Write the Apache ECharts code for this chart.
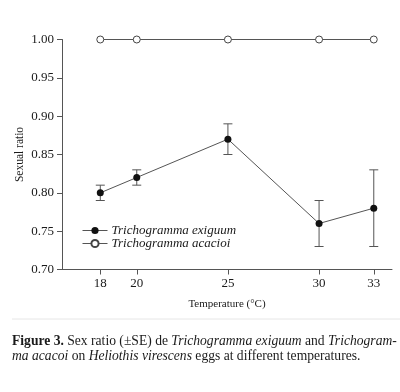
<!DOCTYPE html>
<html>
<head>
<meta charset="utf-8">
<script src="https://cdn.jsdelivr.net/npm/echarts@6/dist/echarts.min.js"></script>
<style>
  html, body { margin: 0; padding: 0; background: #fff; }
  #chart { width: 400px; height: 392px; }
</style>
</head>
<body>
<div id="chart"></div>
<script>
// temperatures (°C) and sex ratios
const temps = [18, 20, 25, 30, 33];
const exiguum = [0.80, 0.82, 0.87, 0.76, 0.78];
const exiguumSE = [0.01, 0.01, 0.02, 0.03, 0.05];
const acacioi = [1.00, 1.00, 1.00, 1.00, 1.00];
const yTicks = [0.70, 0.75, 0.80, 0.85, 0.90, 0.95, 1.00];

const serif = 'Liberation Serif';

const chart = echarts.init(document.getElementById('chart'), null, { renderer: 'canvas' });

let errData = temps.map((t, i) => [t, exiguum[i] - exiguumSE[i], exiguum[i] + exiguumSE[i]]);

chart.setOption({
    backgroundColor: '#ffffff',
    animation: false,
    textStyle: { fontFamily: serif },
    title: {
        left: 12,
        top: 334,
        padding: 0,
        text: '{b|Figure 3.} Sex ratio (±SE) de {i|Trichogramma exiguum} and {i|Trichogram-}\n{i|ma acacoi} on {i|Heliothis virescens} eggs at different temperatures.',
        textStyle: {
            fontFamily: serif,
            fontSize: 13.6,
            fontWeight: 'normal',
            color: '#1a1a1a',
            lineHeight: 15,
            rich: {
                b: { fontFamily: serif, fontSize: 13.6, fontWeight: 'bold', color: '#1a1a1a', lineHeight: 15 },
                i: { fontFamily: serif, fontSize: 13.6, fontStyle: 'italic', color: '#1a1a1a', lineHeight: 15 }
            }
        }
    },
    graphic: [{
        type: 'line',
        shape: { x1: 12, y1: 319, x2: 400, y2: 319 },
        style: { stroke: '#e6e6e6', lineWidth: 1 }
    }],
    legend: {
        left: 82,
        top: 224,
        padding: 0,
        orient: 'vertical',
        itemWidth: 25,
        itemHeight: 9,
        itemGap: 0,
        lineStyle: { width: 1 },
        data: ['Trichogramma exiguum', 'Trichogramma acacioi'],
        textStyle: { fontFamily: serif, fontSize: 13, fontStyle: 'italic', color: '#1a1a1a', padding: [0, 0, 0, -1] }
    },
    grid: {
        top: 39.5,
        bottom: 122.5,
        left: 62,
        right: 8
    },
    xAxis: {
        type: 'value',
        min: 15.9,
        max: 34,
        name: 'Temperature (°C)',
        nameLocation: 'middle',
        nameGap: 29,
        nameMoveOverlap: false,
        nameTextStyle: { fontFamily: serif, fontSize: 11, color: '#1a1a1a' },
        axisLine: { lineStyle: { color: '#555' } },
        axisTick: { show: true, length: 5, customValues: temps, lineStyle: { color: '#555' } },
        axisLabel: { customValues: temps, fontFamily: serif, fontSize: 13, color: '#1a1a1a', margin: 8 },
        splitLine: { show: false }
    },
    yAxis: {
        type: 'value',
        min: 0.70,
        max: 1.00,
        interval: 0.05,
        name: 'Sexual ratio',
        nameLocation: 'middle',
        nameGap: 36,
        nameMoveOverlap: false,
        nameTextStyle: { fontFamily: serif, fontSize: 11.5, color: '#1a1a1a' },
        axisLine: { show: true, lineStyle: { color: '#555' } },
        axisTick: { show: true, length: 5, lineStyle: { color: '#555' } },
        axisLabel: {
            customValues: yTicks,
            fontFamily: serif, fontSize: 13, color: '#1a1a1a', margin: 8,
            formatter: v => v.toFixed(2)
        },
        splitLine: { show: false }
    },
    series: [{
        name: 'Trichogramma exiguum',
        type: 'line',
        data: temps.map((t, i) => [t, exiguum[i]]),
        symbol: 'circle',
        symbolSize: 7,
        lineStyle: { color: '#555', width: 1 },
        itemStyle: { color: '#111', borderColor: '#111', borderWidth: 0 },
        z: 3
    }, {
        name: 'Trichogramma acacioi',
        type: 'line',
        data: temps.map((t, i) => [t, acacioi[i]]),
        symbol: 'circle',
        symbolSize: 7,
        lineStyle: { color: '#555', width: 1 },
        itemStyle: { color: '#fff', borderColor: '#444', borderWidth: 1 },
        z: 3
    }, {
        type: 'custom',
        data: errData,
        z: 2,
        renderItem: (params, api) => {
            let x = api.value(0);
            let lo = api.coord([x, api.value(1)]);
            let hi = api.coord([x, api.value(2)]);
            let w = 4.5;
            let st = { stroke: '#555', lineWidth: 1 };
            return {
                type: 'group',
                children: [
                    { type: 'line', shape: { x1: lo[0], y1: lo[1], x2: hi[0], y2: hi[1] }, style: st },
                    { type: 'line', shape: { x1: lo[0] - w, y1: lo[1], x2: lo[0] + w, y2: lo[1] }, style: st },
                    { type: 'line', shape: { x1: hi[0] - w, y1: hi[1], x2: hi[0] + w, y2: hi[1] }, style: st }
                ]
            };
        }
    }]
});
</script>
</body>
</html>
